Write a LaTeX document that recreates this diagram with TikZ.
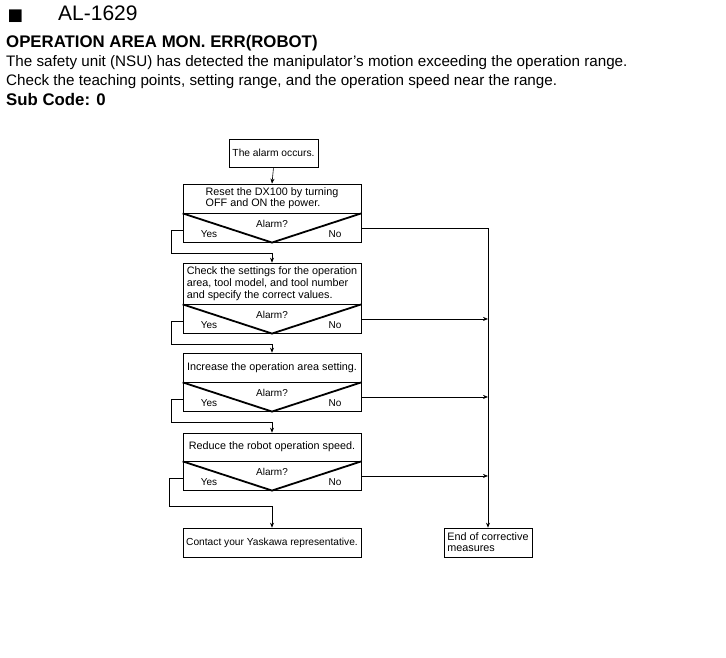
\documentclass[tikz,border=0pt]{standalone}
\usepackage{fontspec}
\setmainfont{Liberation Sans}
\newfontfamily\symfont{DejaVu Sans}
\usetikzlibrary{arrows.meta,positioning}

\tikzset{
  stepbox/.style={draw, line width=0.7pt, minimum width=178pt, inner sep=2pt,
    align=left, font=\fontsize{10.8}{11}\selectfont},
  decbox/.style={draw, line width=0.7pt, minimum width=178pt, minimum height=28.5pt,
    inner sep=0pt},
  vline/.style={line width=1.8pt},
  flow/.style={line width=0.6pt, -{Stealth[length=5pt,width=4pt]}},
  lbl/.style={font=\fontsize{10}{11}\selectfont, inner sep=0pt},
  headtxt/.style={anchor=base west, inner sep=0pt},
}

\begin{document}
\begin{tikzpicture}[x=1pt,y=-1pt]
\useasboundingbox (0,0) rectangle (726,657);

% alarm header
\node[headtxt, font=\symfont\fontsize{16.5}{16.5}\selectfont] (sq) at (7.5,20) {■};
\node[headtxt, font=\fontsize{21}{21}\selectfont] (code) at (58,20) {AL-1629};
\node[headtxt, font=\bfseries\fontsize{16.8}{16.8}\selectfont] (name) at (6,47) {OPERATION AREA MON. ERR(ROBOT)};
\node[headtxt, font=\fontsize{15.2}{15.2}\selectfont] (desc1) at (6,66) {The safety unit (NSU) has detected the manipulator’s motion exceeding the operation range.};
\node[headtxt, font=\fontsize{15.2}{15.2}\selectfont] (desc2) at (6,85) {Check the teaching points, setting range, and the operation speed near the range.};
\node[headtxt, font=\bfseries\fontsize{16.8}{16.8}\selectfont] (sub) at (6,105) {Sub Code: 0};

% start
\node[stepbox, minimum width=89pt, minimum height=28pt, font=\fontsize{10.25}{11}\selectfont] (s0) at (273.5,153) {The alarm occurs.};

% step 1: reset
\node[stepbox, minimum height=29pt] (s1) at (272,198.5) {Reset the DX100 by turning\\OFF and ON the power.};
\node[decbox, below=0pt of s1] (d1) {};
\draw[vline] (d1.north west) -- (d1.south) -- (d1.north east);
\node[lbl] at ([yshift=-11pt]d1.north) {Alarm?};
\node[lbl] at ([xshift=-63pt,yshift=-20.5pt]d1.north) {Yes};
\node[lbl] at ([xshift=63pt,yshift=-20.5pt]d1.north) {No};

% step 2: check settings
\node[stepbox, minimum height=41pt, font=\fontsize{10.8}{12.3}\selectfont] (s2) at (272,283.5) {Check the settings for the operation\\area, tool model, and tool number\\and specify the correct values.};
\node[decbox, below=0pt of s2] (d2) {};
\draw[vline] (d2.north west) -- (d2.south) -- (d2.north east);
\node[lbl] at ([yshift=-11pt]d2.north) {Alarm?};
\node[lbl] at ([xshift=-63pt,yshift=-20.5pt]d2.north) {Yes};
\node[lbl] at ([xshift=63pt,yshift=-20.5pt]d2.north) {No};

% step 3: increase area
\node[stepbox, minimum height=29pt] (s3) at (272,367.5) {Increase the operation area setting.};
\node[decbox, below=0pt of s3] (d3) {};
\draw[vline] (d3.north west) -- (d3.south) -- (d3.north east);
\node[lbl] at ([yshift=-11pt]d3.north) {Alarm?};
\node[lbl] at ([xshift=-63pt,yshift=-20.5pt]d3.north) {Yes};
\node[lbl] at ([xshift=63pt,yshift=-20.5pt]d3.north) {No};

% step 4: reduce speed
\node[stepbox, minimum height=28pt] (s4) at (272,447) {Reduce the robot operation speed.};
\node[decbox, below=0pt of s4] (d4) {};
\draw[vline] (d4.north west) -- (d4.south) -- (d4.north east);
\node[lbl] at ([yshift=-11pt]d4.north) {Alarm?};
\node[lbl] at ([xshift=-63pt,yshift=-20.5pt]d4.north) {Yes};
\node[lbl] at ([xshift=63pt,yshift=-20.5pt]d4.north) {No};

% end nodes
\node[stepbox, minimum height=29pt, font=\fontsize{10.2}{11}\selectfont] (s5) at (272,542.5) {Contact your Yaskawa representative.};
\node[stepbox, minimum width=88pt, minimum height=29pt] (fin) at (488,542.5) {End of corrective\\measures};

% Yes branches
\draw[flow] (s0.south) -- (s1.north);
\draw[flow] ([yshift=-2pt]d1.west) -- ++(-11,0) |- ([yshift=9pt]s2.north) -- (s2.north);
\draw[flow] ([yshift=-2pt]d2.west) -- ++(-11,0) |- ([yshift=8pt]s3.north) -- (s3.north);
\draw[flow] ([yshift=-2pt]d3.west) -- ++(-11,0) |- ([yshift=10pt]s4.north) -- (s4.north);
\draw[flow] ([yshift=-2pt]d4.west) -- ++(-13,0) |- ([yshift=21pt]s5.north) -- (s5.north);

% No branches
\draw[flow] (d1.east) -| (fin.north);
\draw[flow] (d2.east) -- (d2.east -| fin.north);
\draw[flow] (d3.east) -- (d3.east -| fin.north);
\draw[flow] (d4.east) -- (d4.east -| fin.north);
\end{tikzpicture}
\end{document}
